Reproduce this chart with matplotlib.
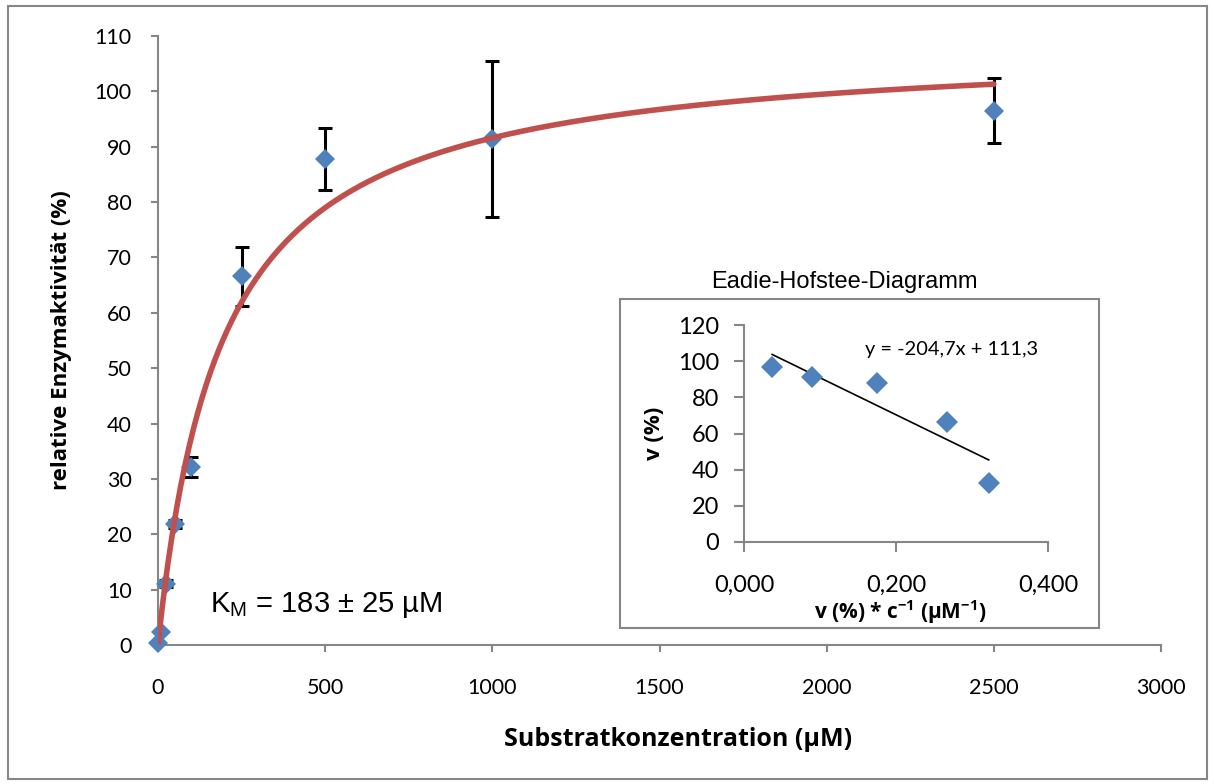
import numpy as np
import matplotlib
matplotlib.use('Agg')
import matplotlib.pyplot as plt
from matplotlib.patches import Rectangle

# Michaelis-Menten data (substrate in uM, relative activity in %)
conc = [0, 10, 25, 50, 100, 250, 500, 1000, 2500]
activity = [0.4, 2.4, 11.1, 21.9, 32.2, 66.6, 87.8, 91.4, 96.5]
act_err = [0, 0, 0.7, 0.7, 1.8, 5.3, 5.6, 14.1, 5.9]

# fitted parameters
vmax = 109.0
km = 190.0

# Eadie-Hofstee data
eh_x = [0.037, 0.090, 0.175, 0.267, 0.322]
eh_y = [96.5, 91.3, 88.2, 66.6, 32.5]
eh_slope = -204.7
eh_intercept = 111.3

main_xticks = [0, 500, 1000, 1500, 2000, 2500, 3000]
main_yticks = list(range(0, 111, 10))
eh_xticks = [0.0, 0.2, 0.4]
eh_xlabels = ['0,000', '0,200', '0,400']
eh_yticks = list(range(0, 121, 20))

W, H = 1214, 784
grey = '#868686'
blue = '#4F81BD'
red = '#C0504D'

fig = plt.figure(figsize=(W / 100, H / 100), dpi=100)

# outer chart border
fig.patches.append(Rectangle((8 / W, 5 / H), 1199 / W, 773 / H, transform=fig.transFigure,
                             fill=False, edgecolor=grey, linewidth=1.5))

ax = fig.add_axes([158 / W, 1 - 645 / H, 1003 / W, 609 / H])
ax.set_xlim(0, 3000)
ax.set_ylim(0, 110)
for s in ['top', 'right']:
    ax.spines[s].set_visible(False)
for s in ['left', 'bottom']:
    ax.spines[s].set_color(grey)
    ax.spines[s].set_linewidth(1.5)
ax.set_xticks(main_xticks)
ax.set_yticks(main_yticks)
ax.tick_params(axis='both', color=grey, width=1.5, length=5, labelsize=15.5)
ax.tick_params(axis='y', pad=14)
ax.tick_params(axis='x', pad=19)
for lab in ax.get_xticklabels() + ax.get_yticklabels():
    lab.set_fontfamily('Lato')

# only draw bars where there is an error
ex = [c for c, e in zip(conc, act_err) if e > 0]
ey = [a for a, e in zip(activity, act_err) if e > 0]
ee = [e for e in act_err if e > 0]
ax.errorbar(ex, ey, yerr=ee, fmt='none', ecolor='black', elinewidth=2.2,
            capsize=4.7, capthick=2.2, zorder=2, clip_on=False)
ax.plot(conc, activity, 'D', color=blue, markersize=10, markeredgewidth=0, zorder=3, clip_on=False)

xfit = np.linspace(0, 2500, 400)
ax.plot(xfit, vmax * xfit / (km + xfit), color=red, linewidth=4, zorder=4, solid_capstyle='round')

fig.text(210 / W, 1 - 605 / H, 'K$_\\mathregular{M}$ = 183 ± 25 µM', fontsize=21,
         family='Liberation Sans', va='center', ha='left')

fig.text(678 / W, 1 - 740 / H, 'Substratkonzentration (µM)', fontsize=18, family='Open Sans',
         weight='bold', ha='center', va='center')
fig.text(62 / W, 1 - 340 / H, 'relative Enzymaktivität (%)', fontsize=16, family='Open Sans',
         weight='bold', ha='center', va='center', rotation=90)

# inset frame and title
fig.patches.append(Rectangle((620 / W, 1 - 628 / H), 479 / W, 329 / H, transform=fig.transFigure,
                             facecolor='white', edgecolor=grey, linewidth=1.5, zorder=5))
fig.text(844 / W, 1 - 282 / H, 'Eadie-Hofstee-Diagramm', fontsize=17, family='Liberation Sans',
         ha='center', va='center')

ax2 = fig.add_axes([744 / W, 1 - 542 / H, 304 / W, 217 / H], zorder=6)
ax2.patch.set_visible(False)
ax2.set_xlim(0, 0.4)
ax2.set_ylim(0, 120)
for s in ['top', 'right']:
    ax2.spines[s].set_visible(False)
for s in ['left', 'bottom']:
    ax2.spines[s].set_color(grey)
    ax2.spines[s].set_linewidth(1.5)
ax2.set_xticks(eh_xticks)
ax2.set_xticklabels(eh_xlabels)
ax2.set_yticks(eh_yticks)
ax2.tick_params(axis='both', color=grey, width=1.5, length=7, labelsize=17)
ax2.tick_params(axis='y', pad=11)
ax2.tick_params(axis='x', pad=17)
for lab in ax2.get_xticklabels() + ax2.get_yticklabels():
    lab.set_fontfamily('Lato')

ax2.plot(eh_x, eh_y, 'D', color=blue, markersize=10.8, markeredgewidth=0, zorder=3, clip_on=False)
xl = np.array([min(eh_x), max(eh_x)])
ax2.plot(xl, eh_slope * xl + eh_intercept, color='black', linewidth=1.2, zorder=2)

fig.text(952 / W, 1 - 350 / H, 'y = -204,7x + 111,3', fontsize=14.4, family='Lato',
         ha='center', va='center', zorder=7)
fig.text(655 / W, 1 - 433 / H, 'v (%)', fontsize=16, family='Open Sans', weight='bold',
         ha='center', va='center', rotation=90, zorder=7)
fig.text(900 / W, 1 - 612 / H, 'v (%) * c$^{\\mathregular{-1}}$ (µM$^{\\mathregular{-1}}$)', fontsize=15,
         family='Open Sans', weight='bold', ha='center', va='center', zorder=7)

fig.savefig('out.png', dpi=100)
